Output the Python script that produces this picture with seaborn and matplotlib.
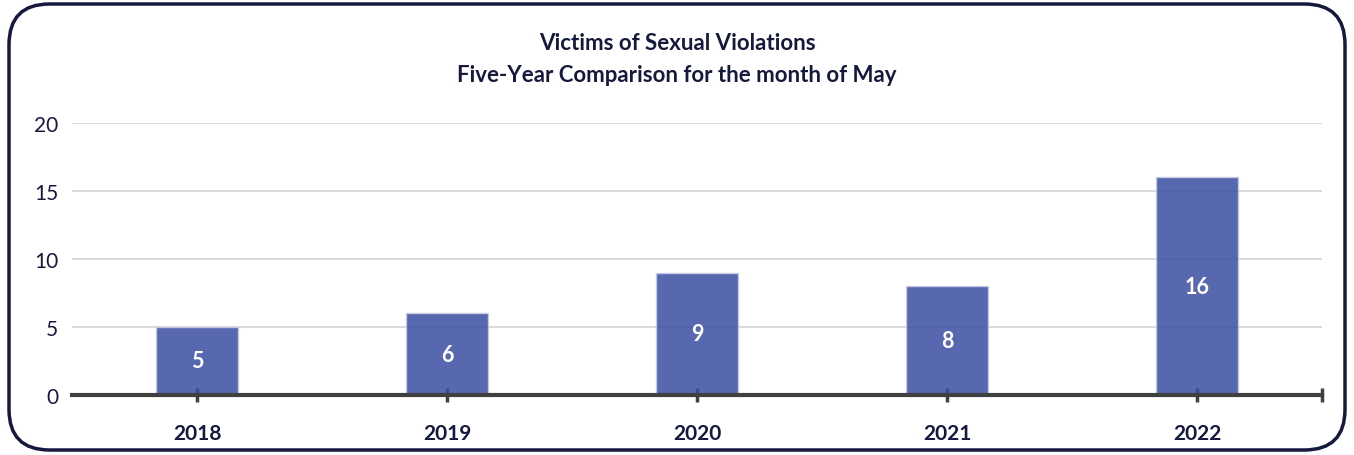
import matplotlib
matplotlib.use("Agg")
import matplotlib.pyplot as plt
import seaborn as sns
import pandas as pd
from matplotlib.patches import FancyBboxPatch

# Data
years = ["2018", "2019", "2020", "2021", "2022"]
victims = [5, 6, 9, 8, 16]
title_lines = ["Victims of Sexual Violations",
               "Five-Year Comparison for the month of May"]

navy = "#15193d"
bar_color = "#3b4ea2"

sns.set_theme(style="white")
plt.rcParams["font.family"] = ["Lato", "DejaVu Sans"]

df = pd.DataFrame({"Year": years, "Victims": victims})

fig = plt.figure(figsize=(13.54, 4.56), dpi=100)
ax = fig.add_axes([72 / 1354, 1 - 396 / 456, 1250 / 1354, 272 / 456])

sns.barplot(data=df, x="Year", y="Victims", color=bar_color, width=0.33,
            saturation=1, alpha=0.85, edgecolor="#c9cfe6", linewidth=1,
            ax=ax, zorder=2)

ax.set_xlim(-0.5, 4.5)
ax.set_ylim(0, 20)
ax.set_yticks([0, 5, 10, 15, 20])
ax.yaxis.grid(True, color="#d4d4d4", linewidth=1.2, zorder=1)
ax.set_axisbelow(True)
for s in ["top", "right", "left"]:
    ax.spines[s].set_visible(False)
ax.spines["bottom"].set_color("#404040")
ax.spines["bottom"].set_linewidth(3)
ax.spines["bottom"].set_zorder(3)

ax.set_xlabel("")
ax.set_ylabel("")
ax.tick_params(axis="y", length=0, labelsize=15, labelcolor=navy, pad=10)
ax.tick_params(axis="x", which="both", bottom=True, length=10, width=2.5,
               color="#404040", direction="inout", labelsize=15,
               labelcolor=navy, pad=15)
ax.set_xticks([4.5], minor=True)
for lbl in ax.get_xticklabels():
    lbl.set_fontweight("bold")

for cont in ax.containers:
    ax.bar_label(cont, label_type="center", color="white", fontsize=15.5,
                 fontweight="bold")

# two title lines, placed separately
for i, line in enumerate(title_lines):
    fig.text(0.5, 1 - (44 + 31 * i) / 456, line, ha="center", va="center",
             fontsize=16, fontweight="bold", color=navy)

border = FancyBboxPatch((9 / 1354, 5 / 456), 1336 / 1354, 446 / 456,
                        boxstyle="round,pad=0,rounding_size=0.03",
                        transform=fig.transFigure, fill=False,
                        edgecolor=navy, linewidth=2.5, mutation_aspect=1354 / 456)
fig.patches.append(border)

fig.savefig("out.png", dpi=100)
